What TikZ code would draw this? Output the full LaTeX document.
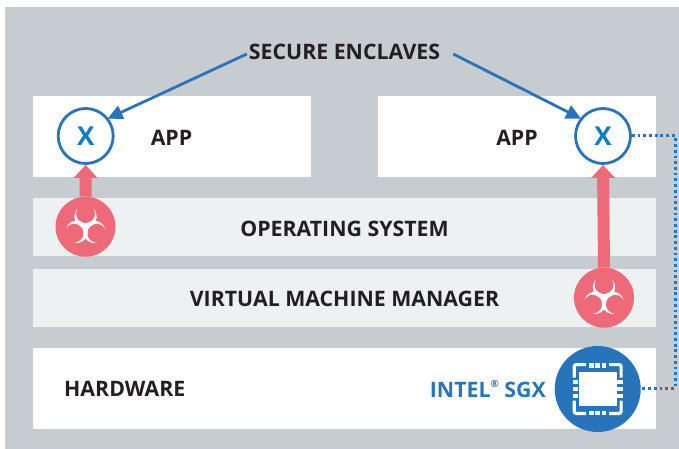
\documentclass[tikz,border=0pt]{standalone}
\usepackage{fontspec}
\setmainfont{Open Sans}[BoldFont={Open Sans Bold}]
\usetikzlibrary{arrows.meta}
\definecolor{bggrey}{HTML}{C7CCD0}
\definecolor{pale}{HTML}{EDF1F2}
\definecolor{sgxblue}{HTML}{2874BA}
\definecolor{xblue}{HTML}{0F7DC2}
\definecolor{threat}{HTML}{EE6A78}
\definecolor{txt}{HTML}{231F20}
\tikzset{
  band/.style={anchor=north west,inner sep=0pt,outer sep=0pt,minimum height=#1},
  lbl/.style={font=\fontsize{21.3}{23}\selectfont\bfseries,text=txt,inner sep=0pt},
  enclave/.style={circle,draw=sgxblue,line width=2.8pt,fill=white,minimum size=55pt,inner sep=0pt,font=\fontsize{26}{28}\selectfont\bfseries,text=xblue},
  hazard/.style={circle,fill=threat,minimum size=60pt,inner sep=0pt},
  callout/.style={draw=sgxblue,line width=2.8pt,-{Triangle[width=14pt,length=15pt]}},
  attack/.style={draw=threat,line width=12pt,-{Triangle[width=23pt,length=13pt]}},
  link/.style={draw=sgxblue,line width=3pt,dash pattern=on 2.8pt off 2.9pt}
}
\newcommand{\crescent}[1]{%
  \fill[white,rotate=#1] (8,18) arc[start angle=44.4,end angle=-224.4,radius=11.18]
     arc[start angle=147.8,end angle=392.2,radius=9.46] -- cycle;}
\newcommand{\biohazard}[1]{%
  \begin{scope}[shift={(#1)},x=1pt,y=1pt]
    \crescent{0}\crescent{120}\crescent{240}
  \end{scope}}
\begin{document}
\begin{tikzpicture}[x=1pt,y=-1pt]
\useasboundingbox (0,0) rectangle (679,449);
\fill[white] (0,0) rectangle (679,449);
\fill[bggrey] (5,7) rectangle (679,449);
\node[band=81pt,fill=white,minimum width=278pt] (app1) at (33,96) {};
\node[band=81pt,fill=white,minimum width=278pt] (app2) at (378,96) {};
\node[band=58pt,fill=pale,minimum width=623pt] (os) at (33,198) {};
\node[band=58pt,fill=pale,minimum width=623pt] (vmm) at (33,269) {};
\node[band=81pt,fill=white,minimum width=623pt] (hw) at (33,348) {};

\node[lbl] (sec) at (344.5,52) {SECURE ENCLAVES};
\node[lbl] (appa) at (171.5,138) {APP};
\node[lbl] (appb) at (517,138) {APP};
\node[lbl] (ostxt) at (344.5,229) {OPERATING SYSTEM};
\node[lbl] (vmmtxt) at (344.5,299) {VIRTUAL MACHINE MANAGER};
\node[lbl,anchor=west] (hwtxt) at (64,389) {HARDWARE};
\node[lbl,anchor=east,text=sgxblue] (sgx) at (546,389) {INTEL\raisebox{0.45em}{\fontsize{10}{10}\selectfont®} SGX};

\node[enclave] (xa) at (85.7,136) {X};
\node[enclave] (xb) at (603,136) {X};
\node[hazard] (pa) at (85.5,226.7) {};
\node[hazard] (pb) at (604,297.7) {};
\node[circle,fill=sgxblue,minimum size=86pt,inner sep=0pt] (chip) at (597.7,389) {};

\coordinate (c1) at (675,136);
\coordinate (c2) at (675,388);
\draw[link] (xb.east) -- (c1) -- (c2) -- (chip.east |- c2);
\draw[callout,shorten >=-1pt] (sec.west) ++(-2,2) -- (xa.38);
\draw[callout,shorten >=-1pt] (sec.east) ++(13,2) -- (xb.142);
\draw[attack] (pa.north) -- (xa.south);
\draw[attack] (pb.north) -- (xb.south);
\biohazard{pa}
\biohazard{pb}

% chip icon
\begin{scope}[shift={(chip.center)}]
  \fill[white] (-19,-17) rectangle (19,17);
  \foreach \d in {-1,0,1}{
    \fill[white] (\d*6.3-2.4,-26) rectangle (\d*6.3+2.4,-21.5);
    \fill[white] (\d*6.3-2.4,21.5) rectangle (\d*6.3+2.4,26);
    \fill[white] (-25,\d*7-2.2) rectangle (-19.7,\d*7+2.2);
    \fill[white] (19.7,\d*7-2.2) rectangle (25,\d*7+2.2);
  }
  \draw[white,line width=3.2pt,rounded corners=2pt]
    (-23.4,-11.5) -- (-23.4,-24.4) -- (-11.5,-24.4);
  \draw[white,line width=3.2pt,rounded corners=2pt]
    (23.4,-11.5) -- (23.4,-24.4) -- (11.5,-24.4);
  \draw[white,line width=3.2pt,rounded corners=2pt]
    (-23.4,11.5) -- (-23.4,24.4) -- (-11.5,24.4);
  \draw[white,line width=3.2pt,rounded corners=2pt]
    (23.4,11.5) -- (23.4,24.4) -- (11.5,24.4);
\end{scope}
\end{tikzpicture}
\end{document}
